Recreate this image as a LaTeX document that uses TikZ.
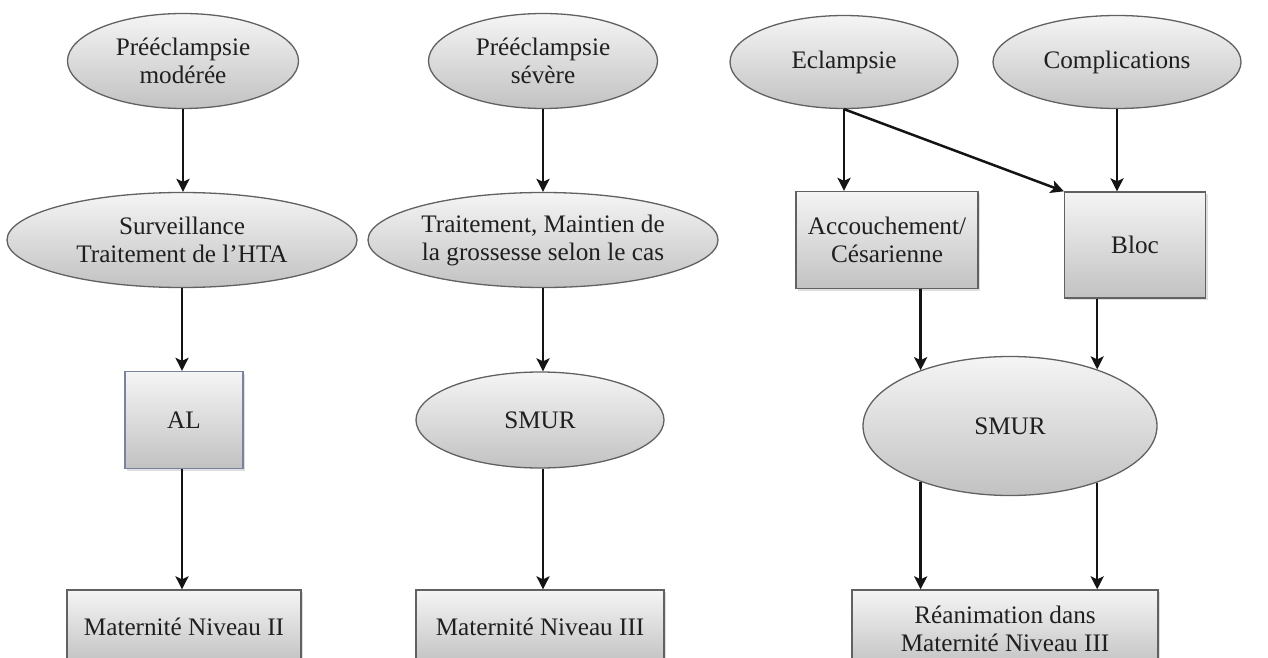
\documentclass[tikz,border=0pt]{standalone}
\usepackage{fontspec}
\setmainfont{Liberation Serif}
\usetikzlibrary{shapes.geometric,arrows.meta,shadows}
\definecolor{albord}{RGB}{118,132,158}
\begin{document}
\begin{tikzpicture}[x=1pt,y=-1pt,
  every node/.style={font=\fontsize{25.2}{28}\selectfont, text=black!88, align=center, inner sep=0pt},
  fillgrad/.style={draw=black!62, line width=1.3pt, top color=black!4, bottom color=black!24},
  oval/.style={ellipse, fillgrad},
  box/.style={rectangle, fillgrad, drop shadow={shadow xshift=2pt, shadow yshift=-2pt, opacity=0.25}},
  arr/.style={line width=2.5pt, draw=black!92, -{Stealth[length=13pt, width=13pt, inset=3pt]}}]
\useasboundingbox (0,0) rectangle (1268,658);
\clip (0,0) rectangle (1268,658);

% first column: moderate pre-eclampsia
\node[oval, minimum width=231pt, minimum height=95pt] (pm) at (183,61) {Prééclampsie\\modérée};
\node[oval, minimum width=350pt, minimum height=95pt] (surv) at (182,240) {Surveillance\\Traitement de l’HTA};
\node[box, draw=albord, minimum width=118pt, minimum height=97pt] (al) at (184,420) {AL};
\node[box, minimum width=234pt, minimum height=74pt] (mat2) at (184,627) {Maternité Niveau II};

% second column: severe pre-eclampsia
\node[oval, minimum width=229pt, minimum height=95pt] (ps) at (543,61) {Prééclampsie\\sévère};
\node[oval, minimum width=350pt, minimum height=95pt] (trait) at (543,240) {Traitement, Maintien de\\la grossesse selon le cas};
\node[oval, minimum width=248pt, minimum height=96pt] (smur2) at (540,420) {SMUR};
\node[box, minimum width=248pt, minimum height=74pt] (mat3) at (540,627) {Maternité Niveau III};

% third column: eclampsia and complications
\node[oval, minimum width=228pt, minimum height=93pt] (ecl) at (844,62) {Eclampsie};
\node[oval, minimum width=248pt, minimum height=93pt] (comp) at (1117,62) {Complications};
\node[box, minimum width=182pt, minimum height=97pt] (acc) at (887,240) {Accouchement/\\Césarienne};
\node[box, minimum width=141pt, minimum height=106pt] (bloc) at (1135,245) {Bloc};
\node[oval, minimum width=294pt, minimum height=139pt] (smur3) at (1010,426) {SMUR};
\node[box, minimum width=306pt, minimum height=78pt] (rea) at (1005,629) {Réanimation dans\\Maternité Niveau III};

% connectors
\draw[arr] (pm.south) -- (pm.south |- surv.north);
\draw[arr] (surv.south) -- (surv.south |- al.north);
\draw[arr] (al.south -| surv.south) -- (surv.south |- mat2.north);

\draw[arr] (ps.south) -- (ps.south |- trait.north);
\draw[arr] (trait.south) -- (trait.south |- smur2.north);
\draw[arr] (smur2.south -| trait.south) -- (trait.south |- mat3.north);

\draw[arr] (ecl.south) -- (ecl.south |- acc.north);
\draw[arr] (ecl.south) -- (bloc.north west);
\draw[arr] (comp.south) -- (comp.south |- bloc.north);
\draw[arr] (acc.south -| smur3.148) -- (smur3.148);
\draw[arr] (bloc.south -| smur3.33) -- (smur3.33);
\draw[arr] (smur3.-148) -- (smur3.-148 |- rea.north);
\draw[arr] (smur3.-33) -- (smur3.-33 |- rea.north);
\end{tikzpicture}
\end{document}
